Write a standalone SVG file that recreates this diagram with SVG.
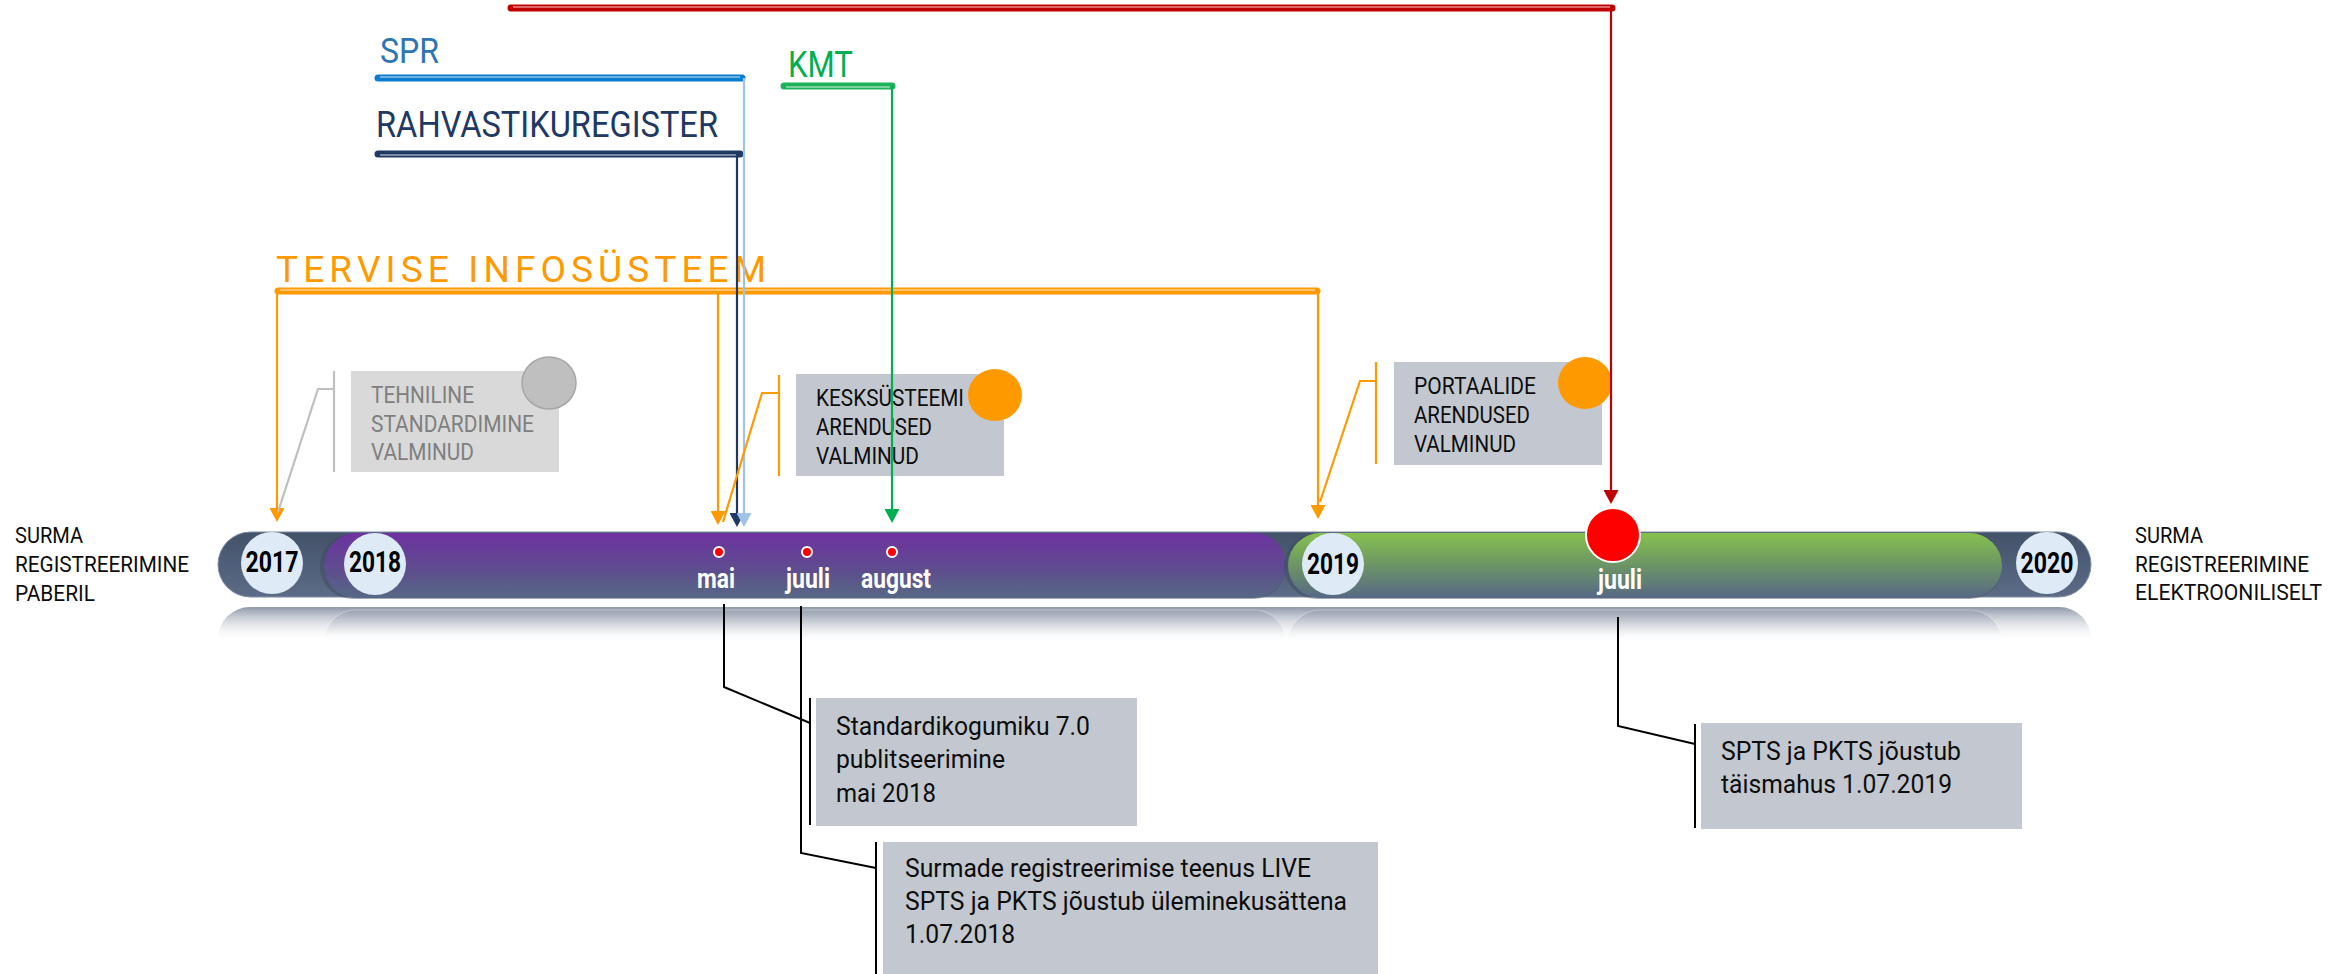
<svg xmlns="http://www.w3.org/2000/svg" width="2328" height="974" viewBox="0 0 2328 974">
  <defs>
    <style>
      text { font-family: Roboto, "Liberation Sans", sans-serif; }
      .lbl { font-size: 22px; fill: #0D0D0D; }
      .box { fill: #C3C8D0; }
      .btxt { font-size: 23px; fill: #0D0D0D; }
      .ltxt { font-size: 25px; fill: #0D0D0D; }
      .year { font-size: 29px; font-weight: bold; fill: #000; text-anchor: middle; }
      .month { font-size: 28px; font-weight: bold; fill: #fff; text-anchor: middle; }
      .ycirc { fill: #DEEAF6; }
      .dot { fill: #FF0000; stroke: #fff; stroke-width: 2; }
      .thick { stroke-width: 7; stroke-linecap: round; fill: none; }
      .hl { stroke: #fff; stroke-opacity: 0.55; stroke-width: 1.4; fill: none; }
      .conn { fill: none; stroke-width: 2.2; }
      .blk { fill: none; stroke: #000; stroke-width: 2; }
    </style>
    <marker id="ah-orange" markerUnits="userSpaceOnUse" markerWidth="14" markerHeight="15" viewBox="0 0 14 15" refX="4" refY="7.5" orient="auto"><path d="M0,0 L14,7.5 L0,15 z" fill="#FF9900"/></marker>
    <marker id="ah-green" markerUnits="userSpaceOnUse" markerWidth="14" markerHeight="15" viewBox="0 0 14 15" refX="4" refY="7.5" orient="auto"><path d="M0,0 L14,7.5 L0,15 z" fill="#00B050"/></marker>
    <marker id="ah-navy" markerUnits="userSpaceOnUse" markerWidth="14" markerHeight="15" viewBox="0 0 14 15" refX="4" refY="7.5" orient="auto"><path d="M0,0 L14,7.5 L0,15 z" fill="#203864"/></marker>
    <marker id="ah-lblue" markerUnits="userSpaceOnUse" markerWidth="14" markerHeight="15" viewBox="0 0 14 15" refX="4" refY="7.5" orient="auto"><path d="M0,0 L14,7.5 L0,15 z" fill="#9DC3E6"/></marker>
    <marker id="ah-red" markerUnits="userSpaceOnUse" markerWidth="14" markerHeight="15" viewBox="0 0 14 15" refX="4" refY="7.5" orient="auto"><path d="M0,0 L14,7.5 L0,15 z" fill="#C00000"/></marker>
    <linearGradient id="gOuter" x1="0" y1="0" x2="0" y2="1">
      <stop offset="0" stop-color="#435268"/>
      <stop offset="1" stop-color="#5C6C88"/>
    </linearGradient>
    <linearGradient id="gPurple" x1="0" y1="0" x2="0" y2="1">
      <stop offset="0" stop-color="#6E31A0"/>
      <stop offset="0.55" stop-color="#5E4C8E"/>
      <stop offset="1" stop-color="#566885"/>
    </linearGradient>
    <linearGradient id="gGreen" x1="0" y1="0" x2="0" y2="1">
      <stop offset="0" stop-color="#87C14E"/>
      <stop offset="0.5" stop-color="#6C9466"/>
      <stop offset="1" stop-color="#566885"/>
    </linearGradient>
    <linearGradient id="gRefl" gradientUnits="userSpaceOnUse" x1="0" y1="607" x2="0" y2="642">
      <stop offset="0" stop-color="#8F98A9" stop-opacity="1"/>
      <stop offset="1" stop-color="#FFFFFF" stop-opacity="0"/>
    </linearGradient>
    <linearGradient id="gRefl2" gradientUnits="userSpaceOnUse" x1="0" y1="610" x2="0" y2="642">
      <stop offset="0" stop-color="#9AA2B2" stop-opacity="1"/>
      <stop offset="1" stop-color="#FFFFFF" stop-opacity="0"/>
    </linearGradient>
    <clipPath id="cRefl"><rect x="0" y="604" width="2328" height="40"/></clipPath>
  </defs>

  <rect x="0" y="0" width="2328" height="974" fill="#FFFFFF"/>

  <!-- Timeline bar -->
  <g id="timeline">
    <g clip-path="url(#cRefl)">
      <rect x="218" y="607" width="1873" height="70" rx="32" fill="url(#gRefl)"/>
      <rect x="324" y="610" width="962" height="70" rx="32" fill="url(#gRefl2)" stroke="#FFFFFF" stroke-opacity="0.3" stroke-width="1.2"/>
      <rect x="1288" y="610" width="714" height="70" rx="32" fill="url(#gRefl2)" stroke="#FFFFFF" stroke-opacity="0.3" stroke-width="1.2"/>
    </g>
    <rect x="218" y="532" width="1873" height="65" rx="32.5" fill="url(#gOuter)" stroke="#7E8CA3" stroke-width="1"/>
    <rect x="320" y="534" width="966" height="65" rx="32.5" fill="#3A475A" opacity="0.45"/>
    <rect x="324" y="533" width="962" height="65" rx="32.5" fill="url(#gPurple)"/>
    <rect x="1284" y="534" width="718" height="65" rx="32.5" fill="#3A475A" opacity="0.45"/>
    <rect x="1288" y="533" width="714" height="65" rx="32.5" fill="url(#gGreen)"/>
  </g>

  <g id="y2017"><circle class="ycirc" cx="272" cy="563" r="31"/><text class="year" x="272" y="572" textLength="53" lengthAdjust="spacingAndGlyphs">2017</text></g>
  <g id="y2018"><circle class="ycirc" cx="375" cy="564" r="31"/><text class="year" x="375" y="572" textLength="52" lengthAdjust="spacingAndGlyphs">2018</text></g>
  <g id="y2019"><circle class="ycirc" cx="1333" cy="564" r="31"/><text class="year" x="1333" y="574" textLength="52" lengthAdjust="spacingAndGlyphs">2019</text></g>
  <g id="y2020"><circle class="ycirc" cx="2047" cy="563" r="31"/><text class="year" x="2047" y="573" textLength="53" lengthAdjust="spacingAndGlyphs">2020</text></g>

  <g id="m-mai"><circle class="dot" cx="719" cy="552" r="5"/><text class="month" x="716" y="588" textLength="38" lengthAdjust="spacingAndGlyphs">mai</text></g>
  <g id="m-juuli"><circle class="dot" cx="807" cy="552" r="5"/><text class="month" x="808" y="588" textLength="44" lengthAdjust="spacingAndGlyphs">juuli</text></g>
  <g id="m-august"><circle class="dot" cx="892" cy="552" r="5"/><text class="month" x="896" y="588" textLength="70" lengthAdjust="spacingAndGlyphs">august</text></g>
  <g id="m-juuli2019"><circle cx="1613" cy="535" r="27" fill="#FF0000" stroke="#FFFFFF" stroke-width="2"/><text class="month" x="1620" y="589" textLength="44" lengthAdjust="spacingAndGlyphs">juuli</text></g>

  <!-- Side labels -->
  <g id="start-label">
    <text class="lbl" x="15" y="543" textLength="68" lengthAdjust="spacingAndGlyphs">SURMA</text>
    <text class="lbl" x="15" y="572" textLength="174" lengthAdjust="spacingAndGlyphs">REGISTREERIMINE</text>
    <text class="lbl" x="15" y="601" textLength="80" lengthAdjust="spacingAndGlyphs">PABERIL</text>
  </g>
  <g id="end-label">
    <text class="lbl" x="2135" y="543" textLength="68" lengthAdjust="spacingAndGlyphs">SURMA</text>
    <text class="lbl" x="2135" y="572" textLength="174" lengthAdjust="spacingAndGlyphs">REGISTREERIMINE</text>
    <text class="lbl" x="2135" y="600" textLength="187" lengthAdjust="spacingAndGlyphs">ELEKTROONILISELT</text>
  </g>

  <!-- Source system headers -->
  <g id="spr">
    <text x="380" y="63" font-size="35" fill="#2E75B6" textLength="59" lengthAdjust="spacingAndGlyphs">SPR</text>
    <line class="thick" x1="378" y1="78" x2="742" y2="78" stroke="#0B7DCF"/>
    <line class="hl" x1="380" y1="77" x2="740" y2="77"/>
  </g>
  <g id="rahvastikuregister">
    <text x="376" y="137" font-size="37" fill="#203864" textLength="342" lengthAdjust="spacingAndGlyphs">RAHVASTIKUREGISTER</text>
    <line class="thick" x1="378" y1="154" x2="740" y2="154" stroke="#203864"/>
    <line class="hl" x1="380" y1="155" x2="738" y2="155"/>
  </g>
  <g id="kmt">
    <text x="788" y="77" font-size="36" fill="#00B050" textLength="65" lengthAdjust="spacingAndGlyphs">KMT</text>
    <line class="thick" x1="784" y1="86" x2="892" y2="86" stroke="#1DB25A"/>
    <line class="hl" x1="786" y1="87" x2="890" y2="87"/>
  </g>
  <g id="tervise">
    <text x="276" y="282" font-size="37" fill="#FF9900" textLength="490" lengthAdjust="spacing">TERVISE INFOSÜSTEEM</text>
    <line class="thick" x1="278" y1="291" x2="1317" y2="291" stroke="#FF9900"/>
    <line class="hl" x1="280" y1="290" x2="1315" y2="290"/>
  </g>
  <g id="red-source">
    <line class="thick" x1="511" y1="8" x2="1612" y2="8" stroke="#C00000"/>
    <line class="hl" x1="513" y1="7" x2="1610" y2="7"/>
  </g>

  <!-- Milestone boxes -->
  <g id="tehniline">
    <rect x="351" y="371" width="208" height="101" fill="#D9D9D9"/>
    <ellipse cx="549" cy="383" rx="27" ry="26" fill="#BFBFBF" stroke="#A6A6A6" stroke-width="1.5"/>
    <text class="btxt" x="371" y="403" style="fill:#7F7F7F" textLength="103" lengthAdjust="spacingAndGlyphs">TEHNILINE</text>
    <text class="btxt" x="371" y="432" style="fill:#7F7F7F" textLength="163" lengthAdjust="spacingAndGlyphs">STANDARDIMINE</text>
    <text class="btxt" x="371" y="460" style="fill:#7F7F7F" textLength="103" lengthAdjust="spacingAndGlyphs">VALMINUD</text>
  </g>
  <g id="kesksusteemi">
    <rect class="box" x="796" y="374" width="208" height="102"/>
    <ellipse cx="995" cy="395" rx="27" ry="26" fill="#FF9900"/>
    <text class="btxt" x="816" y="406" textLength="148" lengthAdjust="spacingAndGlyphs">KESKSÜSTEEMI</text>
    <text class="btxt" x="816" y="435" textLength="116" lengthAdjust="spacingAndGlyphs">ARENDUSED</text>
    <text class="btxt" x="816" y="464" textLength="103" lengthAdjust="spacingAndGlyphs">VALMINUD</text>
  </g>
  <g id="portaalide">
    <rect class="box" x="1394" y="362" width="208" height="103"/>
    <ellipse cx="1585" cy="383" rx="27" ry="26" fill="#FF9900"/>
    <text class="btxt" x="1414" y="394" textLength="122" lengthAdjust="spacingAndGlyphs">PORTAALIDE</text>
    <text class="btxt" x="1414" y="423" textLength="116" lengthAdjust="spacingAndGlyphs">ARENDUSED</text>
    <text class="btxt" x="1414" y="452" textLength="102" lengthAdjust="spacingAndGlyphs">VALMINUD</text>
  </g>
  <g id="standardikogumik">
    <rect class="box" x="816" y="698" width="321" height="128"/>
    <text class="ltxt" x="836" y="735" textLength="254" lengthAdjust="spacingAndGlyphs">Standardikogumiku 7.0</text>
    <text class="ltxt" x="836" y="768" textLength="169" lengthAdjust="spacingAndGlyphs">publitseerimine</text>
    <text class="ltxt" x="836" y="802" textLength="100" lengthAdjust="spacingAndGlyphs">mai 2018</text>
  </g>
  <g id="surmade-teenus">
    <rect class="box" x="883" y="842" width="495" height="132"/>
    <text class="ltxt" x="905" y="877" textLength="406" lengthAdjust="spacingAndGlyphs">Surmade registreerimise teenus LIVE</text>
    <text class="ltxt" x="905" y="910" textLength="442" lengthAdjust="spacingAndGlyphs">SPTS ja PKTS jõustub üleminekusättena</text>
    <text class="ltxt" x="905" y="943" textLength="110" lengthAdjust="spacingAndGlyphs">1.07.2018</text>
  </g>
  <g id="taismahus">
    <rect class="box" x="1701" y="723" width="321" height="106"/>
    <text class="ltxt" x="1721" y="760" textLength="240" lengthAdjust="spacingAndGlyphs">SPTS ja PKTS jõustub</text>
    <text class="ltxt" x="1721" y="793" textLength="231" lengthAdjust="spacingAndGlyphs">täismahus 1.07.2019</text>
  </g>

  <!-- Connectors -->
  <g id="connectors">
    <path class="conn" d="M277,291 V512" stroke="#FF9900" marker-end="url(#ah-orange)"/>
    <path class="conn" d="M718,291 V515" stroke="#FF9900" marker-end="url(#ah-orange)"/>
    <path class="conn" d="M1318,291 V509" stroke="#FF9900" marker-end="url(#ah-orange)"/>
    <path class="conn" d="M737,154 V517" stroke="#203864" marker-end="url(#ah-navy)"/>
    <path class="conn" d="M744,78 V517" stroke="#9DC3E6" marker-end="url(#ah-lblue)"/>
    <path class="conn" d="M892,86 V513" stroke="#00B050" marker-end="url(#ah-green)"/>
    <path class="conn" d="M1611,8 V494" stroke="#C00000" stroke-width="3" marker-end="url(#ah-red)"/>

    <path class="conn" d="M334,371 V472 M334,389 H318 L278,512" stroke="#BFBFBF"/>
    <path class="conn" d="M779,375 V476 M779,393 H762 L723,522" stroke="#FF9900"/>
    <path class="conn" d="M1376,362 V464 M1376,381 H1360 L1320,502" stroke="#FF9900"/>

    <path class="blk" d="M724,604 V687 L810,723 M810,698 V825"/>
    <path class="blk" d="M801,606 V853 L876,868 M876,842 V974"/>
    <path class="blk" d="M1618,617 V726 L1695,744 M1695,724 V828"/>
  </g>
</svg>
